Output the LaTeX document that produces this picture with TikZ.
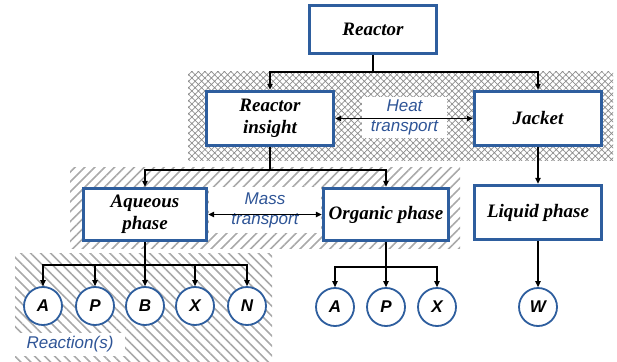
\documentclass[tikz,border=0pt]{standalone}
\usepackage{fontspec}
\setmainfont{Liberation Serif}
\setsansfont{Liberation Sans}
\usetikzlibrary{arrows.meta,patterns.meta}
\definecolor{boxblue}{HTML}{2E5E9E}
\definecolor{txtblue}{HTML}{2F5597}
\definecolor{hatchgray}{HTML}{8C8C8C}
\begin{document}
\begin{tikzpicture}[x=1pt,y=-1pt,
  bx/.style={draw=boxblue,line width=3.4pt,fill=white,align=center,inner sep=0pt,
    font=\bfseries\itshape\fontsize{19}{22}\selectfont},
  circ/.style={circle,draw=boxblue,line width=1.8pt,fill=white,minimum size=38pt,inner sep=0pt,
    font=\sffamily\bfseries\itshape\fontsize{17}{17}\selectfont},
  lbl/.style={fill=white,align=center,inner sep=0pt,text=txtblue,
    font=\sffamily\itshape\fontsize{17}{20}\selectfont},
  conn/.style={line width=1.1pt,draw=black},
  arr/.style={conn,-{Triangle[length=6pt,width=5.5pt]}},
  darr/.style={conn,{Triangle[length=6pt,width=5.5pt]}-{Triangle[length=6pt,width=5.5pt]}}
]
\useasboundingbox (0,0) rectangle (617,361);
% hatched backgrounds
\fill[pattern={Hatch[angle=45,distance=4.6pt,line width=0.7pt]},pattern color=hatchgray] (188,71) rectangle (613,160);
\fill[pattern={Lines[angle=45,distance=7pt,line width=1.6pt]},pattern color=hatchgray!75] (70,167) rectangle (460,248);
\fill[pattern={Lines[angle=-45,distance=7pt,line width=1.6pt]},pattern color=hatchgray!75] (15,253) rectangle (272,361);
% boxes
\node[bx,minimum width=127pt,minimum height=48pt] (reactor) at (373,29.5) {Reactor};
\node[bx,minimum width=127pt,minimum height=54pt] (insight) at (270,118.5) {Reactor\\insight};
\node[bx,minimum width=127pt,minimum height=54pt] (jacket) at (538,118.5) {Jacket};
\node[bx,minimum width=123pt,minimum height=52pt] (aqueous) at (145,214.5) {Aqueous\\phase};
\node[bx,minimum width=125pt,minimum height=52pt] (organic) at (386,214.5) {Organic phase};
\node[bx,minimum width=127pt,minimum height=54pt] (liquid) at (538,212.5) {Liquid phase};
% labels
\node[lbl,minimum width=85pt,minimum height=41pt] (heat) at (404.5,117.5) {Heat\\transport};
\node[lbl,minimum width=112pt,minimum height=46pt] (mass) at (265,210) {Mass\\transport};
\node[lbl,minimum width=110pt,minimum height=23pt] (reac) at (70,344.5) {Reaction(s)};
% circles
\node[circ] (aA) at (43,306) {A};
\node[circ] (aP) at (95,306) {P};
\node[circ] (aB) at (145,306) {B};
\node[circ] (aX) at (195,306) {X};
\node[circ] (aN) at (247,306) {N};
\node[circ] (oA) at (335,307) {A};
\node[circ] (oP) at (386,307) {P};
\node[circ] (oX) at (437,307) {X};
\node[circ] (lW) at (538,307) {W};
% connectors
\coordinate (j1) at (373,72);
\draw[conn] (reactor.south) -- (j1);
\draw[arr] (j1) -| (insight.north);
\draw[arr] (j1) -| (jacket.north);
\draw[darr] (insight.east) -- (jacket.west);
\coordinate (j2) at (270,170);
\draw[conn] (insight.south) -- (j2);
\draw[arr] (j2) -| (aqueous.north);
\draw[arr] (j2) -| (organic.north);
\draw[darr] (aqueous.east) -- (organic.west);
\draw[arr] (jacket.south) -- (liquid.north);
\coordinate (j3) at (145,265);
\draw[conn] (aqueous.south) -- (j3);
\foreach \c in {aA,aP,aN,aX}{\draw[arr] (j3) -| (\c.north);}
\draw[arr] (aqueous.south) -- (aB.north);
\coordinate (j4) at (386,267);
\draw[conn] (organic.south) -- (j4);
\draw[arr] (j4) -| (oA.north);
\draw[arr] (j4) -| (oX.north);
\draw[arr] (organic.south) -- (oP.north);
\draw[arr] (liquid.south) -- (lW.north);
\end{tikzpicture}
\end{document}
